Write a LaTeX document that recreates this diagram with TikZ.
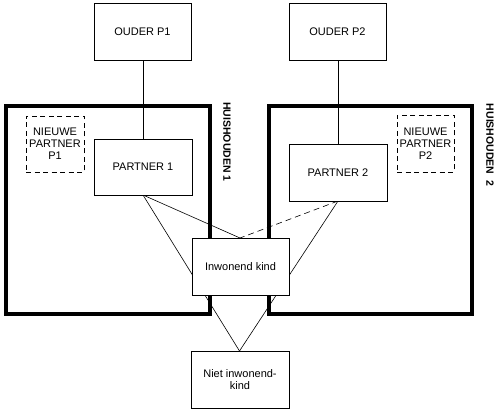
\documentclass[tikz,border=0pt]{standalone}
\usepackage{fontspec}
\setmainfont{Liberation Sans}
\begin{document}
\begin{tikzpicture}[x=1pt,y=-1pt,
  box/.style={draw, line width=0.8pt, fill=white, inner sep=0pt, align=center, font=\fontsize{11}{12.5}\selectfont},
  newbox/.style={draw, line width=0.8pt, dash pattern=on 5pt off 3.5pt, inner sep=0pt, align=center, font=\fontsize{11}{12}\selectfont},
  house/.style={draw, line width=3.6pt, inner sep=0pt},
  link/.style={line width=0.6pt},
  hlabel/.style={rotate=-90, font=\bfseries\fontsize{10.5}{12}\selectfont}]
\useasboundingbox (0,0) rectangle (501,411);
% households
\node[house, minimum width=204pt, minimum height=208pt] (h1) at (108,210) {};
\node[house, minimum width=203pt, minimum height=208pt] (h2) at (370.5,210) {};
\node[hlabel] (l1) at (227,142) {HUISHOUDEN 1};
\node[hlabel] (l2) at (490,145) {HUISHOUDEN\ \ 2};
% coordinates for link ends
\coordinate (p1b) at (143,195);
\coordinate (p2b) at (338,201);
\coordinate (ikt) at (240,238);
\coordinate (nkt) at (239.5,351);
% links
\draw[link] (143,60) coordinate (o1b) -- (143,139) coordinate (p1t);
\draw[link] (338,60) coordinate (o2b) -- (338,144) coordinate (p2t);
\draw[link] (p1b) -- (ikt);
\draw[link] (p1b) -- (nkt);
\draw[link] (p2b) -- (nkt);
\draw[link, dash pattern=on 6pt off 4pt] (p2b) -- (ikt);
% boxes
\node[box, minimum width=97pt, minimum height=57pt] (o1) at (142.5,31.5) {OUDER P1};
\node[box, minimum width=97pt, minimum height=57pt] (o2) at (337.5,31.5) {OUDER P2};
\node[box, minimum width=98pt, minimum height=56pt] (p1) at (143,167) {PARTNER 1};
\node[box, minimum width=98pt, minimum height=57pt] (p2) at (338,172.5) {PARTNER 2};
\node[newbox, minimum width=58pt, minimum height=56pt] (n1) at (55,144) {NIEUWE\\PARTNER\\P1};
\node[newbox, minimum width=57pt, minimum height=57pt] (n2) at (425.5,143.5) {NIEUWE\\PARTNER\\P2};
\node[box, minimum width=97pt, minimum height=57pt] (ik) at (240.5,266.5) {Inwonend kind};
\node[box, minimum width=98pt, minimum height=57pt] (nk) at (240,379.5) {Niet inwonend-\\kind};
\end{tikzpicture}
\end{document}
